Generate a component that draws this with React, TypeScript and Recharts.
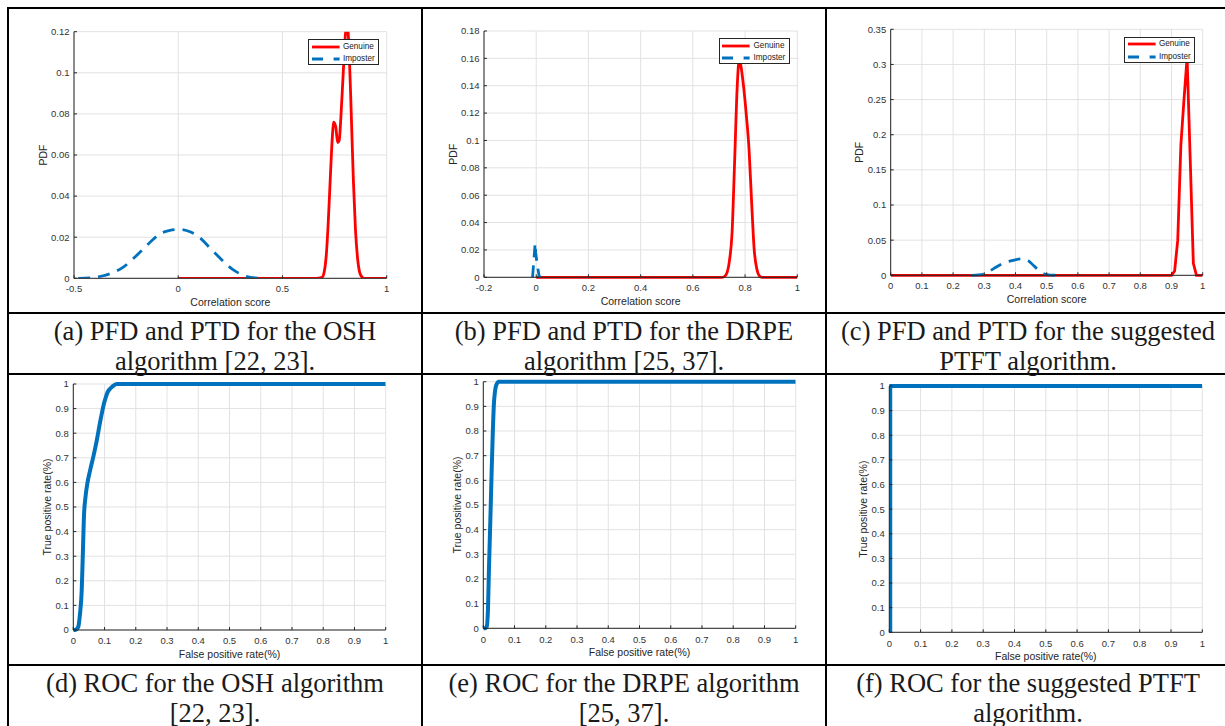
import React from "react";
import { LineChart, Line, XAxis, YAxis, CartesianGrid, Legend, Label } from "recharts";

// ---------- data ----------
const oshScoreTicks = [-0.5, 0, 0.5, 1];
const oshPdfTicks = [0, 0.02, 0.04, 0.06, 0.08, 0.1, 0.12];
const oshGenuineX = [0, 0.66, 0.69, 0.7, 0.71, 0.72, 0.73, 0.74, 0.745, 0.755, 0.765, 0.772, 0.78, 0.79, 0.8, 0.81, 0.82, 0.83, 0.84, 0.85, 0.86, 0.87, 0.88, 0.89, 1];
const oshGenuineY = [0, 0, 0.0005, 0.003, 0.011, 0.028, 0.05, 0.07, 0.076, 0.074, 0.066, 0.067, 0.078, 0.097, 0.116, 0.124, 0.11, 0.08, 0.048, 0.024, 0.01, 0.003, 0.0008, 0, 0];
const oshImposterX = [-0.48, -0.42, -0.37, -0.32, -0.26, -0.22, -0.18, -0.13, -0.09, -0.04, 0.01, 0.06, 0.11, 0.15, 0.2, 0.24, 0.27, 0.3, 0.33, 0.37, 0.42];
const oshImposterY = [0, 0.0002, 0.001, 0.0025, 0.0057, 0.0092, 0.013, 0.018, 0.0215, 0.0233, 0.0238, 0.0225, 0.0192, 0.015, 0.0099, 0.006, 0.0037, 0.002, 0.0008, 0.0002, 0];

const drpeScoreTicks = [-0.2, 0, 0.2, 0.4, 0.6, 0.8, 1];
const drpePdfTicks = [0, 0.02, 0.04, 0.06, 0.08, 0.1, 0.12, 0.14, 0.16, 0.18];
const drpeGenuineX = [0, 0.71, 0.72, 0.73, 0.74, 0.75, 0.76, 0.77, 0.778, 0.786, 0.795, 0.805, 0.815, 0.825, 0.835, 0.845, 0.855, 0.865, 1];
const drpeGenuineY = [0, 0, 0.0005, 0.003, 0.012, 0.032, 0.085, 0.14, 0.16, 0.152, 0.138, 0.118, 0.094, 0.055, 0.02, 0.006, 0.001, 0, 0];
const drpeImposterX = [-0.014, -0.004, -0.002, 0.004, 0.011, 0.016];
const drpeImposterY = [0, 0.025, 0.018, 0.009, 0.001, 0];

const ptftScoreTicks = [0, 0.1, 0.2, 0.3, 0.4, 0.5, 0.6, 0.7, 0.8, 0.9, 1];
const ptftPdfTicks = [0, 0.05, 0.1, 0.15, 0.2, 0.25, 0.3, 0.35];
const ptftGenuineX = [0, 0.9, 0.91, 0.92, 0.93, 0.94, 0.95, 0.96, 0.97, 0.98, 1];
const ptftGenuineY = [0, 0, 0.006, 0.05, 0.185, 0.25, 0.31, 0.165, 0.017, 0, 0];
const ptftImposterX = [0.26, 0.3, 0.33, 0.36, 0.39, 0.42, 0.44, 0.46, 0.48, 0.5, 0.53];
const ptftImposterY = [0, 0.002, 0.0095, 0.017, 0.021, 0.0235, 0.021, 0.013, 0.005, 0.001, 0];

const rateTicks = [0, 0.1, 0.2, 0.3, 0.4, 0.5, 0.6, 0.7, 0.8, 0.9, 1];
const rocOshX = [0, 0.005, 0.01, 0.016, 0.021, 0.027, 0.031, 0.034, 0.039, 0.045, 0.054, 0.064, 0.075, 0.085, 0.092, 0.098, 0.105, 0.11, 0.117, 0.125, 0.139, 0.16, 1];
const rocOshY = [0, 0, 0.003, 0.013, 0.06, 0.163, 0.33, 0.46, 0.54, 0.596, 0.65, 0.704, 0.77, 0.84, 0.885, 0.92, 0.95, 0.967, 0.98, 0.99, 1, 1, 1];
const rocDrpeX = [0, 0.005, 0.011, 0.015, 0.018, 0.021, 0.024, 0.027, 0.03, 0.034, 0.037, 0.04, 0.044, 0.048, 0.06, 1];
const rocDrpeY = [0, 0, 0.007, 0.08, 0.236, 0.37, 0.507, 0.65, 0.777, 0.912, 0.955, 0.98, 0.993, 1, 1, 1];
const rocPtftX = [0.003, 0.003, 1];
const rocPtftY = [0, 1, 1];

const captions = [
  ["(a) PFD and PTD for the OSH", "algorithm [22, 23]."],
  ["(b) PFD and PTD for the DRPE", "algorithm [25, 37]."],
  ["(c) PFD and PTD for the suggested", "PTFT algorithm."],
  ["(d) ROC for the OSH algorithm", "[22, 23]."],
  ["(e) ROC for the DRPE algorithm", "[25, 37]."],
  ["(f) ROC for the suggested PTFT", "algorithm."],
];

const zip = (xs: number[], ys: number[]) => xs.map((x, i) => ({ x, y: ys[i] }));

// ---------- styling ----------
const AXIS = "#262626";
const GRID = "#e2e2e2";
const RED = "#ff0000";
const BLUE = "#0072bd";
const YW = 40;
const XH = 30;
const TICK = { fontSize: 9.5, fill: "#333" };
const fmt = (v: number) => String(v);

function LegendBox(props: any) {
  const payload = props.payload || [];
  return (
    <div
      style={{
        width: 71,
        height: 26,
        border: `1px solid ${AXIS}`,
        background: "#fff",
        boxSizing: "border-box",
        position: "relative",
        fontSize: 8.2,
        color: "#222",
      }}
    >
      {payload.map((entry: any, i: number) => {
        const dashed = entry.value === "Imposter";
        return (
          <div key={i} style={{ position: "absolute", left: 0, top: 0.7 + i * 12.3, height: 12, width: "100%" }}>
            <svg width={30} height={12} style={{ position: "absolute", left: 2.7, top: 0 }}>
              <line x1={0} x2={27.6} y1={6} y2={6} stroke={entry.color} strokeWidth={2.8} strokeDasharray={dashed ? "11 10.6" : undefined} />
            </svg>
            <span style={{ position: "absolute", left: 33.7, top: 0, lineHeight: "12px", whiteSpace: "nowrap" }}>{entry.value}</span>
          </div>
        );
      })}
    </div>
  );
}

type Box = { x: number; y: number; w: number; h: number };
type Plot = { l: number; t: number; r: number; b: number };

function Panel(props: any) {
  const { box, plot, xDomain, xTicks, yDomain, yTicks, xTitle, yTitle, yTitleDx, xTickGap, title, legend, clipY, children } = props as {
    box: Box; plot: Plot; [k: string]: any;
  };
  const margin = {
    top: plot.t - box.y,
    left: plot.l - box.x - YW,
    right: box.x + box.w - plot.r,
    bottom: box.y + box.h - plot.b - XH,
  };
  return (
    <div style={{ position: "absolute", left: box.x, top: box.y }}>
      <LineChart width={box.w} height={box.h} margin={margin}>
        <CartesianGrid stroke={GRID} strokeWidth={1} />
        <XAxis
          type="number"
          dataKey="x"
          domain={xDomain}
          ticks={xTicks}
          interval={0}
          height={XH}
          stroke={AXIS}
          tickSize={-3}
          tickMargin={xTickGap}
          tick={TICK}
          tickFormatter={fmt}
          allowDataOverflow
        >
          <Label
            content={(p: any) => {
              const vb = p.viewBox;
              return (
                <text x={vb.x + vb.width / 2} y={vb.y + 28} textAnchor="middle" fontSize={10.5} fill={AXIS}>
                  {xTitle}
                </text>
              );
            }}
          />
        </XAxis>
        <XAxis xAxisId="top" orientation="top" type="number" dataKey="x" domain={xDomain} ticks={xTicks} interval={0} height={0} stroke={AXIS} tickSize={-3} tick={false} allowDataOverflow>
          {title ? (
            <Label
              content={(p: any) => {
                const vb = p.viewBox;
                return (
                  <text x={vb.x + vb.width / 2} y={vb.y - 5} textAnchor="middle" fontSize={10.5} fontWeight="bold" fill="#111">
                    {title}
                  </text>
                );
              }}
            />
          ) : null}
        </XAxis>
        <YAxis
          type="number"
          domain={yDomain}
          ticks={yTicks}
          interval={0}
          width={YW}
          stroke={AXIS}
          tickSize={-3}
          tickMargin={7.5}
          tick={TICK}
          tickFormatter={fmt}
          allowDataOverflow={clipY}
        >
          <Label
            content={(p: any) => {
              const vb = p.viewBox;
              const cx = vb.x + vb.width + yTitleDx;
              const cy = vb.y + vb.height / 2;
              return (
                <text x={cx} y={cy} textAnchor="middle" dominantBaseline="central" fontSize={10.5} fill={AXIS} transform={`rotate(-90 ${cx} ${cy})`}>
                  {yTitle}
                </text>
              );
            }}
          />
        </YAxis>
        <YAxis yAxisId="right" orientation="right" type="number" domain={yDomain} ticks={yTicks} interval={0} width={0} stroke={AXIS} tickSize={-3} tick={false} allowDataOverflow />
        {legend ? (
          <Legend
            layout="horizontal"
            verticalAlign="middle"
            align="center"
            content={(p: any) => <LegendBox payload={p.payload} />}
            wrapperStyle={{ left: plot.r - 7.5 - 71 - box.x, top: plot.t + 7.2 - box.y, width: 71, height: 26 }}
          />
        ) : null}
        {children}
      </LineChart>
    </div>
  );
}

function Caption({ x, y, w, lines }: { x: number; y: number; w: number; lines: string[] }) {
  return (
    <div
      style={{
        position: "absolute",
        left: x,
        top: y,
        width: w,
        textAlign: "center",
        fontFamily: '"Liberation Serif", "Times New Roman", serif',
        fontSize: 26.5,
        lineHeight: "30px",
        color: "#1a1a1a",
        whiteSpace: "nowrap",
      }}
    >
      {lines.map((l, i) => (
        <div key={i}>{l}</div>
      ))}
    </div>
  );
}

const hLines = [7, 312, 373, 664];
const vLines = [7, 421, 825];

export default function App() {
  const pdfCommon = { xTitle: "Correlation score", yTitle: "PDF", yTitleDx: -31.2, xTickGap: 9.6, title: "Correlation Score for Genuine and Imposter", legend: true };
  const rocCommon = { xTitle: "False positive rate(%)", yTitle: "True positive rate(%)", yTitleDx: -26.6, xTickGap: 10.6, xDomain: [0, 1], xTicks: rateTicks, yDomain: [0, 1], yTicks: rateTicks };
  const dash = "12 8";
  return (
    <div
      style={{
        position: "absolute",
        left: 0,
        top: 0,
        width: 1225,
        height: 726,
        overflow: "hidden",
        background: "#fff",
        fontFamily: '"Liberation Sans", Arial, sans-serif',
      }}
    >
      {hLines.map((y) => (
        <div key={"h" + y} style={{ position: "absolute", left: 7, top: y, width: 1230, height: 2, background: "#000" }} />
      ))}
      {vLines.map((x) => (
        <div key={"v" + x} style={{ position: "absolute", left: x, top: 7, width: 2, height: 730, background: "#000" }} />
      ))}

      <Panel {...pdfCommon} box={{ x: 9, y: 9, w: 412, h: 303 }} plot={{ l: 74, t: 31.7, r: 386.7, b: 278.3 }} xDomain={[-0.5, 1]} xTicks={oshScoreTicks} yDomain={[0, 0.12]} yTicks={oshPdfTicks} clipY>
        <Line name="Genuine" data={zip(oshGenuineX, oshGenuineY)} dataKey="y" type="monotone" stroke={RED} strokeWidth={2.8} dot={false} isAnimationActive={false} />
        <Line name="Imposter" data={zip(oshImposterX, oshImposterY)} dataKey="y" type="monotone" stroke={BLUE} strokeWidth={2.8} strokeDasharray={dash} dot={false} isAnimationActive={false} />
      </Panel>

      <Panel {...pdfCommon} box={{ x: 423, y: 9, w: 402, h: 303 }} plot={{ l: 484, t: 31, r: 797.3, b: 277.3 }} xDomain={[-0.2, 1]} xTicks={drpeScoreTicks} yDomain={[0, 0.18]} yTicks={drpePdfTicks}>
        <Line name="Genuine" data={zip(drpeGenuineX, drpeGenuineY)} dataKey="y" type="monotone" stroke={RED} strokeWidth={2.8} dot={false} isAnimationActive={false} />
        <Line name="Imposter" data={zip(drpeImposterX, drpeImposterY)} dataKey="y" type="linear" stroke={BLUE} strokeWidth={2.8} strokeDasharray={dash} dot={false} isAnimationActive={false} />
      </Panel>

      <Panel {...pdfCommon} box={{ x: 827, y: 9, w: 398, h: 303 }} plot={{ l: 890.7, t: 29.3, r: 1202.7, b: 275.3 }} xDomain={[0, 1]} xTicks={ptftScoreTicks} yDomain={[0, 0.35]} yTicks={ptftPdfTicks}>
        <Line name="Genuine" data={zip(ptftGenuineX, ptftGenuineY)} dataKey="y" type="linear" stroke={RED} strokeWidth={2.8} dot={false} isAnimationActive={false} />
        <Line name="Imposter" data={zip(ptftImposterX, ptftImposterY)} dataKey="y" type="monotone" stroke={BLUE} strokeWidth={2.8} strokeDasharray={dash} dot={false} isAnimationActive={false} />
      </Panel>

      <Panel {...rocCommon} box={{ x: 9, y: 375, w: 412, h: 289 }} plot={{ l: 73.3, t: 384, r: 385.7, b: 630 }}>
        <Line data={zip(rocOshX, rocOshY)} dataKey="y" type="monotone" stroke={BLUE} strokeWidth={4} dot={false} isAnimationActive={false} />
      </Panel>

      <Panel {...rocCommon} box={{ x: 423, y: 375, w: 402, h: 289 }} plot={{ l: 483.3, t: 381.7, r: 795.7, b: 628.3 }}>
        <Line data={zip(rocDrpeX, rocDrpeY)} dataKey="y" type="monotone" stroke={BLUE} strokeWidth={4} dot={false} isAnimationActive={false} />
      </Panel>

      <Panel {...rocCommon} box={{ x: 827, y: 375, w: 398, h: 289 }} plot={{ l: 889.3, t: 386, r: 1202.3, b: 632.3 }}>
        <Line data={zip(rocPtftX, rocPtftY)} dataKey="y" type="linear" stroke={BLUE} strokeWidth={4} dot={false} isAnimationActive={false} />
      </Panel>

      <Caption x={9} y={315.5} w={412} lines={captions[0]} />
      <Caption x={423} y={315.5} w={402} lines={captions[1]} />
      <Caption x={827} y={315.5} w={402} lines={captions[2]} />
      <Caption x={9} y={668} w={412} lines={captions[3]} />
      <Caption x={423} y={668} w={402} lines={captions[4]} />
      <Caption x={827} y={668} w={402} lines={captions[5]} />
    </div>
  );
}
